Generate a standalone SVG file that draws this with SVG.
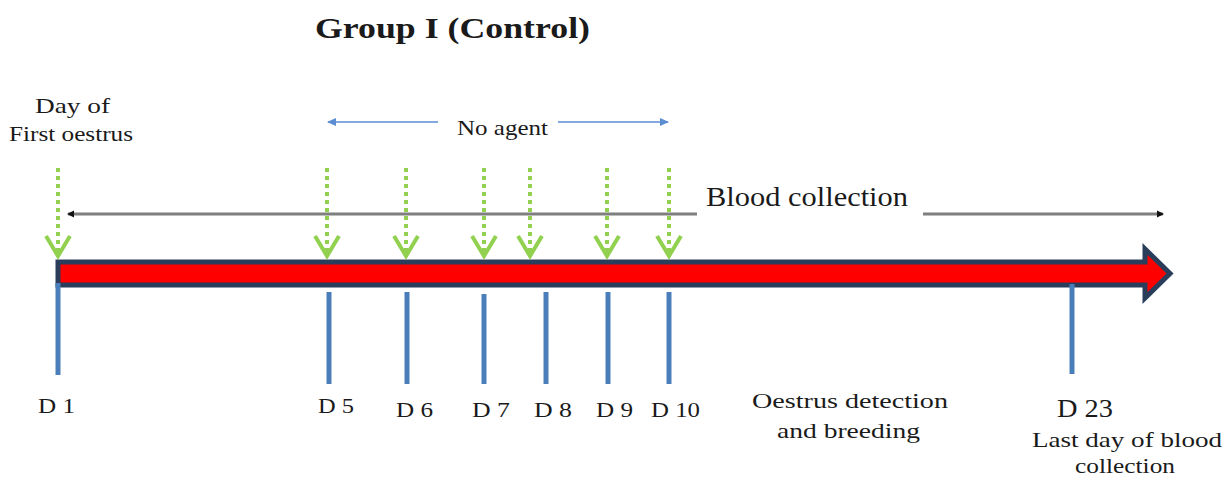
<svg xmlns="http://www.w3.org/2000/svg" width="1227" height="481" viewBox="0 0 1227 481">
<defs>
<marker id="mBlack" markerWidth="8" markerHeight="8" refX="6" refY="4" orient="auto-start-reverse" markerUnits="userSpaceOnUse">
<path d="M0,0.5 L7,4 L0,7.5 Z" fill="#111"/>
</marker>
<marker id="mBlue" markerWidth="10" markerHeight="10" refX="8" refY="5" orient="auto-start-reverse" markerUnits="userSpaceOnUse">
<path d="M0,1 L9,5 L0,9 Z" fill="#5b8dd3"/>
</marker>
</defs>
<style>
text{font-family:"Liberation Serif","Times New Roman",serif;fill:#1a1a1a}
.lbl{font-size:22px}
.tick{stroke:#4a7ebb;stroke-width:5}
.dots{stroke:#92d050;stroke-width:4;stroke-dasharray:4 4;fill:none}
.chev{stroke:#92d050;stroke-width:4;fill:none;stroke-linejoin:miter}
.gray{stroke:#7f7f7f;stroke-width:3;fill:none}
.blue{stroke:#5b8dd3;stroke-width:1.6;fill:none}
</style>
<rect width="1227" height="481" fill="#fff"/>
<g id="title">
<text x="315" y="38" style="font-size:30px;font-weight:bold" textLength="275" lengthAdjust="spacingAndGlyphs">Group I (Control)</text>
</g>
<g id="timeline">
<path d="M58,262 L1145,262 L1145,249 L1170,273.5 L1145,298 L1145,285 L58,285 Z" fill="#ff0000" stroke="#2a3d5a" stroke-width="5" stroke-linejoin="miter"/>
</g>
<g id="connectors">
<line class="gray" x1="68" y1="214" x2="697" y2="214" marker-start="url(#mBlack)"/>
<line class="gray" x1="923" y1="214" x2="1163" y2="214" marker-end="url(#mBlack)"/>
<line class="blue" x1="328" y1="122" x2="438" y2="122" marker-start="url(#mBlue)"/>
<line class="blue" x1="558" y1="122" x2="668" y2="122" marker-end="url(#mBlue)"/>
<g id="green-arrows">
<line class="dots" x1="58" y1="168" x2="58" y2="252"/><polyline class="chev" points="46,236 58,256 70,236"/>
<line class="dots" x1="327" y1="168" x2="327" y2="252"/><polyline class="chev" points="315,236 327,256 339,236"/>
<line class="dots" x1="406" y1="168" x2="406" y2="252"/><polyline class="chev" points="394,236 406,256 418,236"/>
<line class="dots" x1="484" y1="168" x2="484" y2="252"/><polyline class="chev" points="472,236 484,256 496,236"/>
<line class="dots" x1="530" y1="168" x2="530" y2="252"/><polyline class="chev" points="518,236 530,256 542,236"/>
<line class="dots" x1="607" y1="168" x2="607" y2="252"/><polyline class="chev" points="595,236 607,256 619,236"/>
<line class="dots" x1="669" y1="168" x2="669" y2="252"/><polyline class="chev" points="657,236 669,256 681,236"/>
</g>
</g>
<g id="first-oestrus">
<text x="35" y="113" class="lbl" textLength="75" lengthAdjust="spacingAndGlyphs">Day of</text>
<text x="9" y="141" class="lbl" textLength="124" lengthAdjust="spacingAndGlyphs">First oestrus</text>
</g>
<g id="no-agent">
<text x="457" y="135" class="lbl" textLength="91" lengthAdjust="spacingAndGlyphs">No agent</text>
</g>
<g id="blood-collection">
<text x="706" y="206" style="font-size:27px" textLength="202" lengthAdjust="spacingAndGlyphs">Blood collection</text>
</g>
<g id="d1"><line class="tick" x1="58" y1="283" x2="58" y2="375"/><text x="38" y="413" class="lbl" textLength="37" lengthAdjust="spacingAndGlyphs">D 1</text></g>
<g id="d5"><line class="tick" x1="329" y1="292" x2="329" y2="384"/><text x="318" y="413" class="lbl" textLength="36" lengthAdjust="spacingAndGlyphs">D 5</text></g>
<g id="d6"><line class="tick" x1="407" y1="292" x2="407" y2="384"/><text x="396" y="417" class="lbl" textLength="37" lengthAdjust="spacingAndGlyphs">D 6</text></g>
<g id="d7"><line class="tick" x1="484" y1="294" x2="484" y2="384"/><text x="472" y="417" class="lbl" textLength="38" lengthAdjust="spacingAndGlyphs">D 7</text></g>
<g id="d8"><line class="tick" x1="546" y1="292" x2="546" y2="384"/><text x="534" y="417" class="lbl" textLength="38" lengthAdjust="spacingAndGlyphs">D 8</text></g>
<g id="d9"><line class="tick" x1="608" y1="292" x2="608" y2="384"/><text x="596" y="417" class="lbl" textLength="37" lengthAdjust="spacingAndGlyphs">D 9</text></g>
<g id="d10"><line class="tick" x1="669" y1="292" x2="669" y2="384"/><text x="651" y="417" class="lbl" textLength="49" lengthAdjust="spacingAndGlyphs">D 10</text></g>
<g id="oestrus-detection">
<text x="752" y="408" class="lbl" textLength="196" lengthAdjust="spacingAndGlyphs">Oestrus detection</text>
<text x="777" y="438" class="lbl" textLength="143" lengthAdjust="spacingAndGlyphs">and breeding</text>
</g>
<g id="d23">
<line class="tick" x1="1072" y1="284" x2="1072" y2="374"/>
<text x="1057" y="417" style="font-size:25px" textLength="56" lengthAdjust="spacingAndGlyphs">D 23</text>
<text x="1032" y="447" class="lbl" textLength="190" lengthAdjust="spacingAndGlyphs">Last day of  blood</text>
<text x="1075" y="473" class="lbl" textLength="100" lengthAdjust="spacingAndGlyphs">collection</text>
</g>
</svg>
